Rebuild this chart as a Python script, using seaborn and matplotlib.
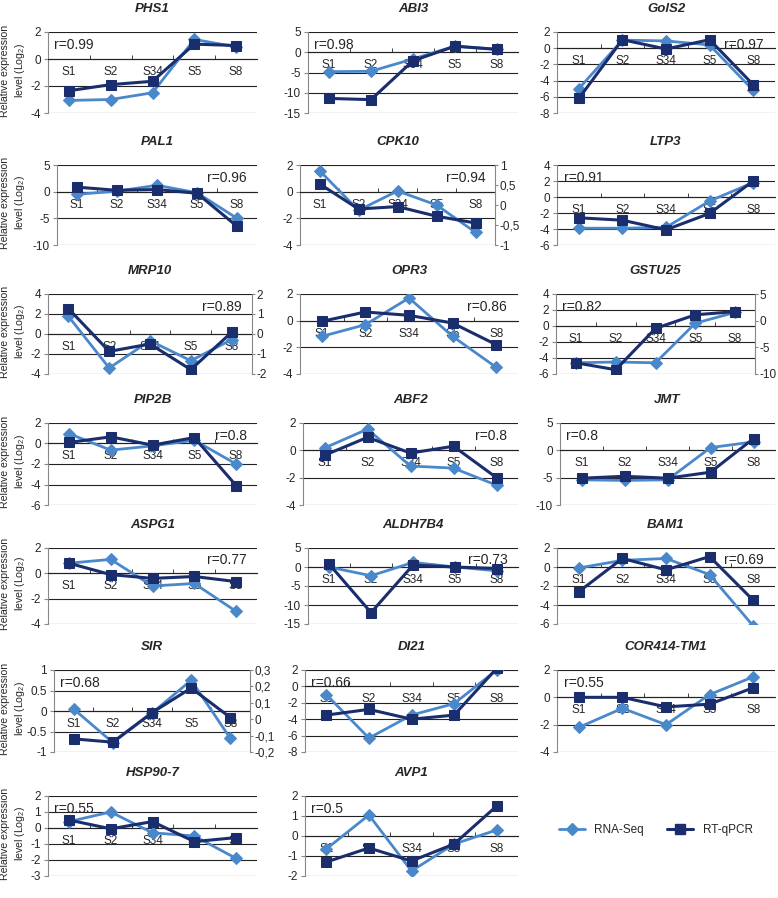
import numpy as np
import matplotlib
matplotlib.use("Agg")
import matplotlib.pyplot as plt
import seaborn as sns
from matplotlib.lines import Line2D
from matplotlib.ticker import FuncFormatter

stages = ["S1", "S2", "S34", "S5", "S8"]

# RNA-Seq / RT-qPCR values (log2)
rna_phs1 = [-3.07, -3.0, -2.5, 1.45, 0.9]
qpcr_phs1 = [-2.35, -1.9, -1.65, 1.1, 1.0]
rna_abi3 = [-4.8, -4.7, -1.65, 1.5, 0.75]
qpcr_abi3 = [-11.4, -11.7, -2.1, 1.5, 0.7]
rna_gols2 = [-5.0, 1.0, 0.9, 0.4, -5.2]
qpcr_gols2 = [-6.2, 1.05, -0.1, 1.05, -4.5]
rna_pal1 = [-0.5, 0.1, 1.2, -0.2, -5.0]
qpcr_pal1 = [0.85, 0.25, 0.4, -0.3, -6.5]
rna_cpk10 = [1.58, -1.4, 0.05, -1.0, -3.05]
qpcr_cpk10 = [0.53, -0.1, -0.04, -0.28, -0.45]      # secondary axis
rna_ltp3 = [-3.9, -3.9, -3.8, -0.5, 1.8]
qpcr_ltp3 = [-2.6, -2.9, -4.1, -2.05, 2.0]
rna_mrp10 = [1.77, -3.4, -0.67, -2.67, -0.57]
qpcr_mrp10 = [1.27, -0.87, -0.5, -1.78, 0.08]       # secondary axis
rna_opr3 = [-1.18, -0.3, 1.7, -1.18, -3.5]
qpcr_opr3 = [-0.05, 0.65, 0.4, -0.18, -1.8]
rna_gstu25 = [-4.6, -4.5, -4.6, 0.35, 1.7]
qpcr_gstu25 = [-7.9, -9.2, -1.45, 1.1, 1.7]         # secondary axis
rna_pip2b = [0.97, -0.65, -0.23, 0.32, -2.0]
qpcr_pip2b = [0.1, 0.65, -0.16, 0.58, -4.1]
rna_abf2 = [0.17, 1.55, -1.15, -1.3, -2.55]
qpcr_abf2 = [-0.36, 0.95, -0.2, 0.3, -2.0]
rna_jmt = [-5.4, -5.5, -5.4, 0.5, 1.55]
qpcr_jmt = [-5.1, -4.75, -5.1, -4.0, 2.15]
rna_aspg1 = [0.8, 1.1, -1.0, -0.8, -3.0]
qpcr_aspg1 = [0.8, -0.1, -0.4, -0.25, -0.65]
rna_aldh7b4 = [0.0, -2.3, 1.2, 0.0, -1.0]
qpcr_aldh7b4 = [0.8, -12.0, 0.5, 0.0, -0.4]
rna_bam1 = [-0.1, 0.7, 0.9, -0.8, -6.2]
qpcr_bam1 = [-2.6, 0.9, -0.3, 1.1, -3.5]
rna_sir = [0.05, -0.77, -0.05, 0.75, -0.67]
qpcr_sir = [-0.12, -0.14, 0.04, 0.19, 0.01]         # secondary axis
rna_di21 = [-1.0, -6.3, -3.5, -2.1, 2.0]
qpcr_di21 = [-3.5, -2.8, -4.0, -3.5, 2.2]
rna_cor414 = [-2.2, -0.8, -2.0, 0.2, 1.5]
qpcr_cor414 = [0.0, 0.0, -0.7, -0.5, 0.7]
rna_hsp90 = [0.4, 1.0, -0.3, -0.5, -1.9]
qpcr_hsp90 = [0.5, -0.05, 0.4, -0.85, -0.6]
rna_avp1 = [-0.65, 1.05, -1.75, -0.4, 0.3]
qpcr_avp1 = [-1.3, -0.6, -1.25, -0.4, 1.5]

sns.set_style("white")
plt.rcParams["font.family"] = ["Liberation Sans", "DejaVu Sans"]
plt.rcParams["mathtext.fontset"] = "custom"
plt.rcParams["mathtext.rm"] = "Liberation Sans"

LIGHT = "#4a88cc"
DARK = "#1a2e6e"
W, H = 778, 898
fig = plt.figure(figsize=(W / 100, H / 100), dpi=100)

col_x = [(48, 257), (305, 518), (557, 775)]
row_y = [(32, 113), (165, 245), (294, 374), (423, 505), (548, 624), (670, 752), (796, 876)]

plain = FuncFormatter(lambda v, p: "%g" % round(v, 2))
comma = FuncFormatter(lambda v, p: ("%g" % round(v, 2)).replace(".", ","))

# name, rna, qpcr, row, col, ylim, step, r, r side, secondary (lim, step, comma), x override
panels = [
    ("PHS1", rna_phs1, qpcr_phs1, 0, 0, (-4, 2), 2, "0.99", "l", None, None),
    ("ABI3", rna_abi3, qpcr_abi3, 0, 1, (-15, 5), 5, "0.98", "l", None, (308, 518)),
    ("GolS2", rna_gols2, qpcr_gols2, 0, 2, (-8, 2), 2, "0.97", "r", None, None),
    ("PAL1", rna_pal1, qpcr_pal1, 1, 0, (-10, 5), 5, "0.96", "r", None, (57, 257)),
    ("CPK10", rna_cpk10, qpcr_cpk10, 1, 1, (-4, 2), 2, "0.94", "r", ((-1, 1), 0.5, True), (300, 495)),
    ("LTP3", rna_ltp3, qpcr_ltp3, 1, 2, (-6, 4), 2, "0.91", "l", None, None),
    ("MRP10", rna_mrp10, qpcr_mrp10, 2, 0, (-4, 4), 2, "0.89", "r", ((-2, 2), 1, False), (48, 252)),
    ("OPR3", rna_opr3, qpcr_opr3, 2, 1, (-4, 2), 2, "0.86", "r", None, (300, 518)),
    ("GSTU25", rna_gstu25, qpcr_gstu25, 2, 2, (-6, 4), 2, "0.82", "l", ((-10, 5), 5, False), (556, 755)),
    ("PIP2B", rna_pip2b, qpcr_pip2b, 3, 0, (-6, 2), 2, "0.8", "r", None, None),
    ("ABF2", rna_abf2, qpcr_abf2, 3, 1, (-4, 2), 2, "0.8", "r", None, (303, 518)),
    ("JMT", rna_jmt, qpcr_jmt, 3, 2, (-10, 5), 5, "0.8", "l", None, (560, 775)),
    ("ASPG1", rna_aspg1, qpcr_aspg1, 4, 0, (-4, 2), 2, "0.77", "r", None, None),
    ("ALDH7B4", rna_aldh7b4, qpcr_aldh7b4, 4, 1, (-15, 5), 5, "0.73", "r", None, (308, 518)),
    ("BAM1", rna_bam1, qpcr_bam1, 4, 2, (-6, 2), 2, "0.69", "r", None, None),
    ("SIR", rna_sir, qpcr_sir, 5, 0, (-1, 1), 0.5, "0.68", "l", ((-0.2, 0.3), 0.1, True), (54, 250)),
    ("DI21", rna_di21, qpcr_di21, 5, 1, (-8, 2), 2, "0.66", "l", None, None),
    ("COR414-TM1", rna_cor414, qpcr_cor414, 5, 2, (-4, 2), 2, "0.55", "l", None, None),
    ("HSP90-7", rna_hsp90, qpcr_hsp90, 6, 0, (-3, 2), 1, "0.55", "l", None, None),
    ("AVP1", rna_avp1, qpcr_avp1, 6, 1, (-2, 2), 1, "0.5", "l", None, None),
]

x = np.arange(len(stages))

for name, rna, qpcr, r, c, ylim, step, rval, side, sec, xo in panels:
    x0, x1 = xo if xo else col_x[c]
    y0, y1 = row_y[r]
    ax = fig.add_axes([x0 / W, 1 - y1 / H, (x1 - x0) / W, (y1 - y0) / H])
    ax.set_xlim(-0.5, 4.5)
    ax.set_ylim(*ylim)
    ax.set_yticks(np.arange(ylim[0], ylim[1] + step / 2, step))
    ax.yaxis.set_major_formatter(plain)
    ax.yaxis.grid(True, color="#222222", lw=0.8)
    ax.set_axisbelow(True)
    for s in ["top", "right"]:
        ax.spines[s].set_visible(False)
    ax.spines["left"].set_color("#888888")
    ax.spines["bottom"].set_position(("data", 0))
    ax.spines["bottom"].set_color("#222222")
    ax.set_xticks(x)
    ax.set_xticklabels(stages)
    ax.set_xticks(x[:-1] + 0.5, minor=True)
    ax.tick_params(axis="x", which="major", length=0, pad=5, labelsize=8.5, bottom=False)
    ax.tick_params(axis="x", which="minor", direction="in", length=3, color="#222222", bottom=True)
    ax.tick_params(axis="y", length=3, labelsize=8.5, pad=2, direction="out", left=True, color="#888888")

    sns.lineplot(x=x, y=rna, ax=ax, color=LIGHT, marker="D", markersize=6,
                 markeredgecolor=LIGHT, linewidth=2, zorder=3)
    target = ax
    if sec:
        slim, sstep, use_comma = sec
        ax2 = ax.twinx()
        ax2.set_ylim(*slim)
        ax2.set_yticks(np.arange(slim[0], slim[1] + sstep / 2, sstep))
        ax2.yaxis.set_major_formatter(comma if use_comma else plain)
        for s in ["top", "left", "bottom"]:
            ax2.spines[s].set_visible(False)
        ax2.spines["right"].set_color("#888888")
        ax2.tick_params(axis="y", length=2, labelsize=8.5, pad=1.5, direction="out", right=True, color="#888888")
        ax2.grid(False)
        target = ax2
    sns.lineplot(x=x, y=qpcr, ax=target, color=DARK, marker="s", markersize=7,
                 markeredgecolor=DARK, linewidth=2.2, zorder=4)
    ax.set(xlabel="", ylabel="")
    target.set(xlabel="", ylabel="")

    if side == "l":
        ax.text(0.03, 0.84, "r=" + rval, transform=ax.transAxes, ha="left", va="center", fontsize=10, zorder=5)
    else:
        ax.text(0.95, 0.84, "r=" + rval, transform=ax.transAxes, ha="right", va="center", fontsize=10, zorder=5)

    fig.text((x0 + x1) / 2 / W, 1 - (y0 - 23) / H, name, ha="center", va="center",
             fontsize=9.5, fontweight="bold", fontstyle="italic")
    if c == 0:
        fig.text(14 / W, 1 - ((y0 + y1) / 2 - 2) / H, "Relative expression\nlevel (Log$_2$)",
                 rotation=90, ha="center", va="center", fontsize=7.6, linespacing=1.3,
                 multialignment="center")

handles = [Line2D([], [], color=LIGHT, marker="D", markersize=6, lw=2),
           Line2D([], [], color=DARK, marker="s", markersize=7, lw=2.2)]
fig.legend(handles, ["RNA-Seq", "RT-qPCR"], loc="center left", bbox_to_anchor=(548 / W, 1 - 830 / H),
           ncol=2, frameon=False, fontsize=8.5, handlelength=2.2, columnspacing=2.0)

fig.savefig("out.png", dpi=100)
